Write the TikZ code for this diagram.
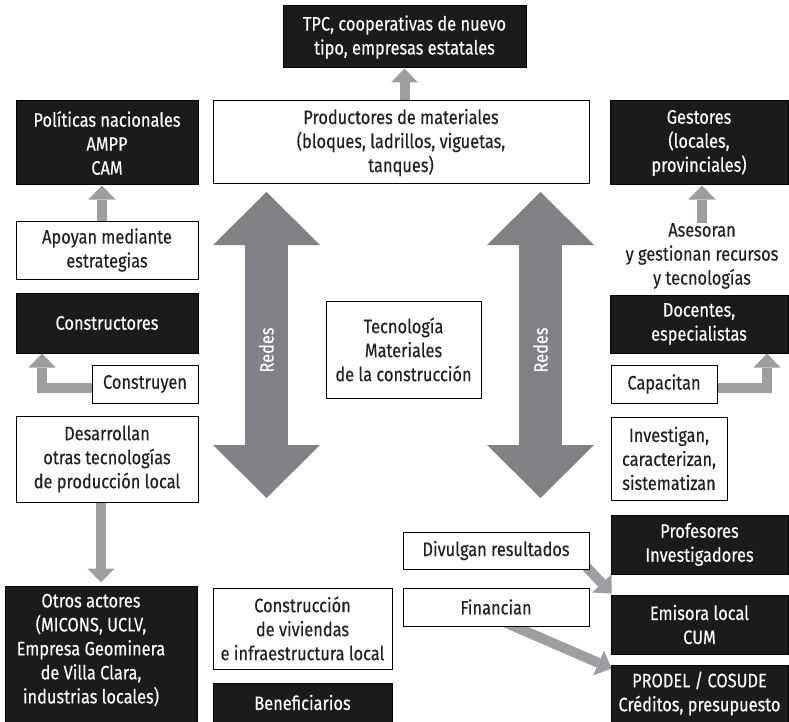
\documentclass[tikz,border=0pt]{standalone}
\usepackage{fontspec}
\setmainfont{Fira Sans}[FakeStretch=0.84, FakeBold=0.2]
\usetikzlibrary{arrows.meta}
\definecolor{boxblack}{HTML}{1C1A1D}
\definecolor{txtdark}{HTML}{231F20}
\definecolor{arrowgray}{HTML}{9D9EA1}
\definecolor{biggray}{HTML}{808184}
\pgfdeclarelayer{background}
\pgfsetlayers{background,main}
\tikzset{
  every node/.style={font=\fontsize{19.5}{24}\selectfont, align=center, inner sep=0pt},
  darkbox/.style={fill=boxblack, draw=black, line width=1pt, text=white},
  lightbox/.style={fill=white, draw=black, line width=1pt, text=txtdark},
  sz/.style 2 args={minimum width=#1pt, minimum height=#2pt},
  smallarrow/.style={draw=arrowgray, line width=10pt, line cap=butt, line join=miter,
    -{Triangle[width=27pt,length=14pt,line width=0pt]}},
  bigarrow/.style={draw=biggray, line width=43pt, line cap=butt,
    {Triangle[width=107pt,length=53pt,line width=0pt]}-{Triangle[width=107pt,length=53pt,line width=0pt]}},
  redeslabel/.style={text=white, rotate=90}
}
\begin{document}
\begin{tikzpicture}[x=1pt,y=-1pt]
\useasboundingbox (0,0) rectangle (789,722);

% top row
\node[darkbox, sz={243}{62}] (tpc) at (404.5,37) {TPC, cooperativas de nuevo\\tipo, empresas estatales};
\node[darkbox, sz={182}{84}] (pol) at (107,143) {Políticas nacionales\\AMPP\\CAM};
\node[lightbox, sz={376}{83}] (prod) at (401,142.5) {Productores de materiales\\(bloques, ladrillos, viguetas,\\tanques)};
\node[darkbox, sz={178}{84}] (gest) at (699,143) {Gestores\\(locales,\\provinciales)};

% left column
\node[lightbox, sz={182}{58}] (apoyan) at (107,250) {Apoyan mediante\\estrategias};
\node[darkbox, sz={182}{60}] (constr) at (107,323) {Constructores};
\node[lightbox, sz={106}{38}] (construyen) at (145,384) {Construyen};
\node[lightbox, sz={182}{86}] (desarr) at (107,459) {Desarrollan\\otras tecnologías\\de producción local};
\node[darkbox, sz={192}{136}] (otros) at (101,654) {};
\node[text=white] (otrostxt) at (91,650) {Otros actores\\(MICONS, UCLV,\\Empresa Geominera\\de Villa Clara,\\industrias locales)};

% centre
\node[lightbox, sz={155}{97}] (tecn) at (403.5,349.5) {Tecnología\\Materiales\\de la construcción};
\node[lightbox, sz={179}{81}] (constviv) at (302.5,628.5) {Construcción\\de viviendas\\e infraestructura local};
\node[darkbox, sz={179}{39}] (benef) at (302.5,702.5) {Beneficiarios};

% right column
\node[text=txtdark] (asesoran) at (702,256) {Asesoran\\y gestionan recursos\\y tecnologías};
\node[darkbox, sz={178}{58}] (docentes) at (699,324) {Docentes,\\especialistas};
\node[lightbox, sz={106}{38}] (capacitan) at (664,384) {Capacitan};
\node[lightbox, sz={116}{83}] (investigan) at (669,458.5) {Investigan,\\caracterizan,\\sistematizan};
\node[darkbox, sz={177}{59}] (profes) at (699.5,544.5) {Profesores\\Investigadores};
\node[lightbox, sz={186}{37}] (divulgan) at (496,550.5) {Divulgan resultados};
\node[darkbox, sz={177}{59}] (emisora) at (699.5,624.5) {Emisora local\\CUM};
\node[lightbox, sz={186}{38}] (financian) at (496,607) {Financian};
\node[darkbox, sz={177}{57}] (prodel) at (699.5,693.5) {PRODEL / COSUDE\\Créditos, presupuesto};

% network arrows
\coordinate (redesLtop) at (266.5,192);
\coordinate (redesLbot) at (266.5,498);
\coordinate (redesRtop) at (540.5,192);
\coordinate (redesRbot) at (540.5,498);
\draw[bigarrow] (redesLtop) -- (redesLbot);
\draw[bigarrow] (redesRtop) -- (redesRbot);
\node[redeslabel] (redesL) at (266.5,350) {Redes};
\node[redeslabel] (redesR) at (540.5,350) {Redes};

\begin{pgfonlayer}{background}
\draw[smallarrow] ([xshift=-5pt]apoyan.north) -- ([xshift=-5pt]pol.south);
\draw[smallarrow] (tpc.south |- prod.north) -- (tpc.south);
\draw[smallarrow] ([xshift=3pt]gest.south |- asesoran.north) -- ([xshift=3pt]gest.south);
\draw[smallarrow] (desarr.south -| otros.north) -- ([yshift=3pt]otros.north);
\draw[smallarrow] ([yshift=-3.5pt]construyen.west) -| ([xshift=-65pt]constr.south);
\draw[smallarrow] ([yshift=-3.5pt]capacitan.east) -| ([xshift=68pt]docentes.south);
\draw[smallarrow] ([xshift=-10pt,yshift=10pt]divulgan.south east) -- ([xshift=1pt,yshift=1pt]emisora.north west);
\draw[smallarrow] ([xshift=7pt,yshift=5pt]financian.south) -- ([xshift=1pt,yshift=-4pt]prodel.north west);
\end{pgfonlayer}
\end{tikzpicture}
\end{document}
